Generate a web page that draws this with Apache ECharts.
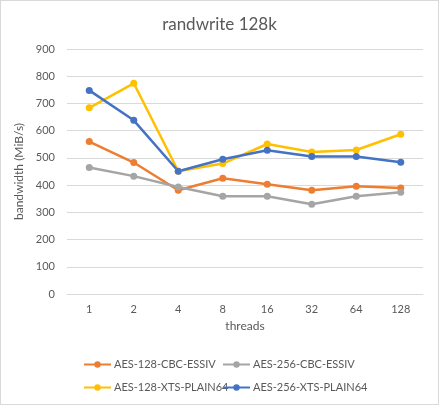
<!DOCTYPE html>
<html>
<head>
<meta charset="utf-8">
<script src="https://cdn.jsdelivr.net/npm/echarts@6/dist/echarts.min.js"></script>
<style>
  html, body { margin: 0; padding: 0; background: #fff; }
  #chart { width: 437px; height: 403px; border: 1px solid #d9d9d9; }
</style>
</head>
<body>
<div id="chart"></div>
<script>
// 数据
var threads = ['1', '2', '4', '8', '16', '32', '64', '128'];
var seriesNames = ['AES-128-CBC-ESSIV', 'AES-256-CBC-ESSIV', 'AES-128-XTS-PLAIN64', 'AES-256-XTS-PLAIN64'];
var cbc128 = [560, 483, 381, 425, 403, 381, 396, 389];
var cbc256 = [465, 433, 393, 359, 359, 330, 359, 374];
var xts128 = [684, 774, 451, 479, 551, 522, 529, 587];
var xts256 = [748, 638, 451, 495, 528, 505, 505, 484];
var yTicks = [0, 100, 200, 300, 400, 500, 600, 700, 800, 900];

var colors = ['#ed7d31', '#a5a5a5', '#ffc000', '#4472c4'];
var textColor = '#595959';
var font = 'Lato, "Open Sans", sans-serif';

initChart();

function makeSeries(name, data, color) {
    return {
        name: name,
        type: 'line',
        data: data,
        symbol: 'circle',
        symbolSize: 7,
        lineStyle: { color: color, width: 2.5 },
        itemStyle: { color: color },
        z: 2
    };
}

// 每个图例单独定位，模拟两行两列
function makeLegend(name, left, top) {
    return {
        data: [name],
        left: left,
        top: top,
        itemWidth: 27,
        itemHeight: 8,
        itemGap: 0,
        padding: 0,
        textStyle: { color: textColor, fontSize: 11, fontFamily: font, padding: [0, 0, 0, -2] }
    };
}

function initChart() {
    var myChart = echarts.init(document.getElementById('chart'));
    var option = {
        animation: false,
        color: colors,
        title: {
            text: 'randwrite 128k',
            left: 'center',
            top: 10,
            textStyle: { color: textColor, fontSize: 17, fontWeight: 'normal', fontFamily: font }
        },
        legend: [
            makeLegend(seriesNames[0], 82, 358),
            makeLegend(seriesNames[1], 221, 358),
            makeLegend(seriesNames[2], 82, 381),
            makeLegend(seriesNames[3], 221, 381)
        ],
        grid: {
            left: 66,
            right: 15,
            top: 48,
            bottom: 110
        },
        xAxis: {
            type: 'category',
            data: threads,
            name: 'threads',
            nameLocation: 'middle',
            nameGap: 22,
            nameTextStyle: { color: textColor, fontSize: 12, fontFamily: font },
            axisLine: { lineStyle: { color: '#d9d9d9' } },
            axisTick: { show: false },
            axisLabel: { color: textColor, fontSize: 11, fontFamily: font, margin: 10 }
        },
        yAxis: {
            type: 'value',
            min: yTicks[0],
            max: yTicks[yTicks.length - 1],
            interval: 100,
            name: 'bandwidth (MiB/s)',
            nameLocation: 'middle',
            nameGap: 38,
            nameTextStyle: { color: textColor, fontSize: 12, fontFamily: font },
            axisLine: { show: false },
            axisTick: { show: false },
            axisLabel: { color: textColor, fontSize: 11, fontFamily: font, margin: 12 },
            splitLine: { lineStyle: { color: '#d9d9d9' } }
        },
        series: [
            makeSeries(seriesNames[0], cbc128, colors[0]),
            makeSeries(seriesNames[1], cbc256, colors[1]),
            makeSeries(seriesNames[2], xts128, colors[2]),
            makeSeries(seriesNames[3], xts256, colors[3])
        ]
    };
    myChart.setOption(option);
}
</script>
</body>
</html>
